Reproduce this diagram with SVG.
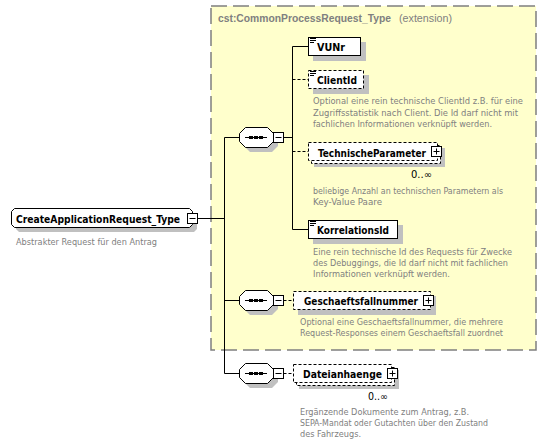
<svg xmlns="http://www.w3.org/2000/svg" xmlns:xlink="http://www.w3.org/1999/xlink" width="547" height="444" viewBox="0 0 547 444">
<style>
.bx{fill:#fff;stroke:#000;stroke-width:1}
.dbx{fill:#fff;stroke:#000;stroke-width:1;stroke-dasharray:3,2}
.sh{fill:#c0c0c0;stroke:none}
.nm{font-family:"DejaVu Sans Condensed","DejaVu Sans",sans-serif;font-weight:bold;font-size:11px;fill:#000}
.ds{font-family:"DejaVu Sans Condensed","DejaVu Sans",sans-serif;font-size:9px;fill:#808080}
.oc{font-family:"DejaVu Sans Condensed","DejaVu Sans",sans-serif;font-size:10px;fill:#000}
.tt{font-family:"Liberation Sans",Arial,sans-serif;fill:#808080}
.ln{stroke:#000;stroke-width:1;fill:none}
.dln{stroke:#000;stroke-width:1;fill:none;stroke-dasharray:3,2}
.ic{stroke:#000;stroke-width:1}
</style>
<defs>
<g id="minus"><rect x="0.5" y="0.5" width="10" height="10" fill="#fff" stroke="#000"/><line x1="2.5" y1="5.5" x2="8.5" y2="5.5" stroke="#000"/></g>
<g id="plus"><rect x="0.5" y="0.5" width="10" height="10" fill="#fff" stroke="#000"/><line x1="2.5" y1="5.5" x2="8.5" y2="5.5" stroke="#000"/><line x1="5.5" y1="2.5" x2="5.5" y2="8.5" stroke="#000"/></g>
<g id="lines"><line x1="0" y1="0.5" x2="6" y2="0.5" class="ic"/><line x1="0" y1="2.5" x2="6" y2="2.5" class="ic"/><line x1="0" y1="4.5" x2="4" y2="4.5" class="ic"/></g>
<g id="seqsym"><line x1="245" y1="0" x2="267" y2="0" class="ln"/><rect x="249" y="-1.5" width="4" height="3" fill="#000"/><rect x="254" y="-1.5" width="4" height="3" fill="#000"/><rect x="259" y="-1.5" width="4" height="3" fill="#000"/></g>
</defs>

<g id="extension">
<rect x="211" y="6" width="325" height="344" fill="#ffffcc" stroke="#7f7f7f" stroke-width="1.5" stroke-dasharray="16,6"/>
<text x="218" y="22" class="tt" font-size="10.2" font-weight="bold" textLength="173" lengthAdjust="spacingAndGlyphs">cst:CommonProcessRequest_Type</text>
<text x="399" y="22" class="tt" font-size="10.8" textLength="53" lengthAdjust="spacingAndGlyphs">(extension)</text>
</g>

<g id="connectors">
<line x1="197.5" y1="218.5" x2="224.5" y2="218.5" class="ln"/>
<line x1="224.5" y1="137.5" x2="224.5" y2="373.5" class="ln"/>
<line x1="224.5" y1="137.5" x2="239.5" y2="137.5" class="ln"/>
<line x1="224.5" y1="300.5" x2="239.5" y2="300.5" class="ln"/>
<line x1="224.5" y1="373.5" x2="239.5" y2="373.5" class="ln"/>
<line x1="283.5" y1="137.5" x2="292.5" y2="137.5" class="ln"/>
<line x1="292.5" y1="46.5" x2="292.5" y2="229.5" class="ln"/>
<line x1="292.5" y1="46.5" x2="308.5" y2="46.5" class="ln"/>
<line x1="292.5" y1="79.5" x2="308.5" y2="79.5" class="dln"/>
<line x1="292.5" y1="151.5" x2="308.5" y2="151.5" class="dln"/>
<line x1="292.5" y1="229.5" x2="308.5" y2="229.5" class="ln"/>
<line x1="283.5" y1="300.5" x2="293.5" y2="300.5" class="dln"/>
<line x1="283.5" y1="373.5" x2="293.5" y2="373.5" class="dln"/>
</g>

<g id="root">
<path class="sh" d="M19,213 H194 L197,216 V229 L194,232 H19 L16,229 V216 Z"/>
<path class="bx" d="M14.5,208.5 H189.5 L192.5,211.5 V224.5 L189.5,227.5 H14.5 L11.5,224.5 V211.5 Z"/>
<text x="16" y="223" class="nm" font-size="11.5" textLength="164" lengthAdjust="spacingAndGlyphs">CreateApplicationRequest_Type</text>
<use xlink:href="#minus" x="187" y="213"/>
<text x="16" y="244.5" class="ds" textLength="141" lengthAdjust="spacingAndGlyphs">Abstrakter Request für den Antrag</text>
</g>

<g id="seq1">
<path class="sh" d="M250,132 H272 L278,138 V146 L272,152 H250 L244,146 V138 Z"/>
<path class="bx" d="M245.5,127.5 H267.5 L273.5,133.5 V141.5 L267.5,147.5 H245.5 L239.5,141.5 V133.5 Z"/>
<use xlink:href="#seqsym" y="137.5"/>
<use xlink:href="#minus" x="273" y="132"/>
</g>

<g id="seq2">
<path class="sh" d="M250,295 H272 L278,301 V309 L272,315 H250 L244,309 V301 Z"/>
<path class="bx" d="M245.5,290.5 H267.5 L273.5,296.5 V304.5 L267.5,310.5 H245.5 L239.5,304.5 V296.5 Z"/>
<use xlink:href="#seqsym" y="300.5"/>
<use xlink:href="#minus" x="273" y="295"/>
</g>

<g id="seq3">
<path class="sh" d="M250,368 H272 L278,374 V382 L272,388 H250 L244,382 V374 Z"/>
<path class="bx" d="M245.5,363.5 H267.5 L273.5,369.5 V377.5 L267.5,383.5 H245.5 L239.5,377.5 V369.5 Z"/>
<use xlink:href="#seqsym" y="373.5"/>
<use xlink:href="#minus" x="273" y="368"/>
</g>

<g id="vunr">
<rect class="sh" x="313" y="42" width="53" height="19"/>
<rect class="bx" x="308.5" y="37.5" width="52" height="18"/>
<use xlink:href="#lines" x="310" y="38"/>
<text x="317" y="51" class="nm" textLength="28" lengthAdjust="spacingAndGlyphs">VUNr</text>
</g>

<g id="clientid">
<rect class="sh" x="313" y="75" width="56" height="19"/>
<rect class="dbx" x="308.5" y="70.5" width="55" height="18"/>
<use xlink:href="#lines" x="310" y="71"/>
<text x="317" y="84" class="nm" textLength="40" lengthAdjust="spacingAndGlyphs">ClientId</text>
<text class="ds" x="313" y="104"><tspan x="313" textLength="210" lengthAdjust="spacingAndGlyphs">Optional eine rein technische ClientId z.B. für eine</tspan><tspan x="313" y="115.5" textLength="205" lengthAdjust="spacingAndGlyphs">Zugriffsstatistik nach Client. Die Id darf nicht mit</tspan><tspan x="313" y="127" textLength="179" lengthAdjust="spacingAndGlyphs">fachlichen Informationen verknüpft werden.</tspan></text>
</g>

<g id="technischeparameter">
<rect class="sh" x="314" y="148" width="131" height="19"/>
<rect class="dbx" x="311.5" y="145.5" width="129" height="18"/>
<rect class="dbx" x="308.5" y="142.5" width="129" height="18"/>
<text x="318" y="156.5" class="nm" textLength="108" lengthAdjust="spacingAndGlyphs">TechnischeParameter</text>
<use xlink:href="#plus" x="431" y="146"/>
<text x="411" y="178" class="oc" textLength="21" lengthAdjust="spacingAndGlyphs">0..∞</text>
<text class="ds" x="313" y="193.5"><tspan x="313" textLength="190" lengthAdjust="spacingAndGlyphs">beliebige Anzahl an technischen Parametern als</tspan><tspan x="313" y="204.5" textLength="69" lengthAdjust="spacingAndGlyphs">Key-Value Paare</tspan></text>
</g>

<g id="korrelationsid">
<rect class="sh" x="313" y="225" width="90" height="19"/>
<rect class="bx" x="308.5" y="220.5" width="89" height="18"/>
<use xlink:href="#lines" x="310" y="221"/>
<text x="317" y="233.5" class="nm" textLength="72" lengthAdjust="spacingAndGlyphs">KorrelationsId</text>
<text class="ds" x="313" y="254.5"><tspan x="313" textLength="199" lengthAdjust="spacingAndGlyphs">Eine rein technische Id des Requests für Zwecke</tspan><tspan x="313" y="265.5" textLength="195" lengthAdjust="spacingAndGlyphs">des Debuggings, die Id darf nicht mit fachlichen</tspan><tspan x="313" y="276.5" textLength="137" lengthAdjust="spacingAndGlyphs">Informationen verknüpft werden.</tspan></text>
</g>

<g id="geschaeftsfallnummer">
<rect class="sh" x="298" y="296" width="138" height="19"/>
<rect class="dbx" x="293.5" y="291.5" width="137" height="18"/>
<text x="304" y="305" class="nm" textLength="114" lengthAdjust="spacingAndGlyphs">Geschaeftsfallnummer</text>
<use xlink:href="#plus" x="423" y="295"/>
<text class="ds" x="300" y="324.5"><tspan x="300" textLength="203" lengthAdjust="spacingAndGlyphs">Optional eine Geschaeftsfallnummer, die mehrere</tspan><tspan x="300" y="336" textLength="203" lengthAdjust="spacingAndGlyphs">Request-Responses einem Geschaeftsfall zuordnet</tspan></text>
</g>

<g id="dateianhaenge">
<rect class="sh" x="299" y="370" width="100" height="19"/>
<rect class="dbx" x="296.5" y="367.5" width="98" height="18"/>
<rect class="dbx" x="293.5" y="364.5" width="98" height="18"/>
<text x="303" y="378" class="nm" textLength="79" lengthAdjust="spacingAndGlyphs">Dateianhaenge</text>
<use xlink:href="#plus" x="387" y="368"/>
<text x="368" y="400" class="oc" textLength="20" lengthAdjust="spacingAndGlyphs">0..∞</text>
<text class="ds" x="300" y="415"><tspan x="300" textLength="169" lengthAdjust="spacingAndGlyphs">Ergänzende Dokumente zum Antrag, z.B.</tspan><tspan x="300" y="426" textLength="188" lengthAdjust="spacingAndGlyphs">SEPA-Mandat oder Gutachten über den Zustand</tspan><tspan x="300" y="437" textLength="61" lengthAdjust="spacingAndGlyphs">des Fahrzeugs.</tspan></text>
</g>
</svg>
